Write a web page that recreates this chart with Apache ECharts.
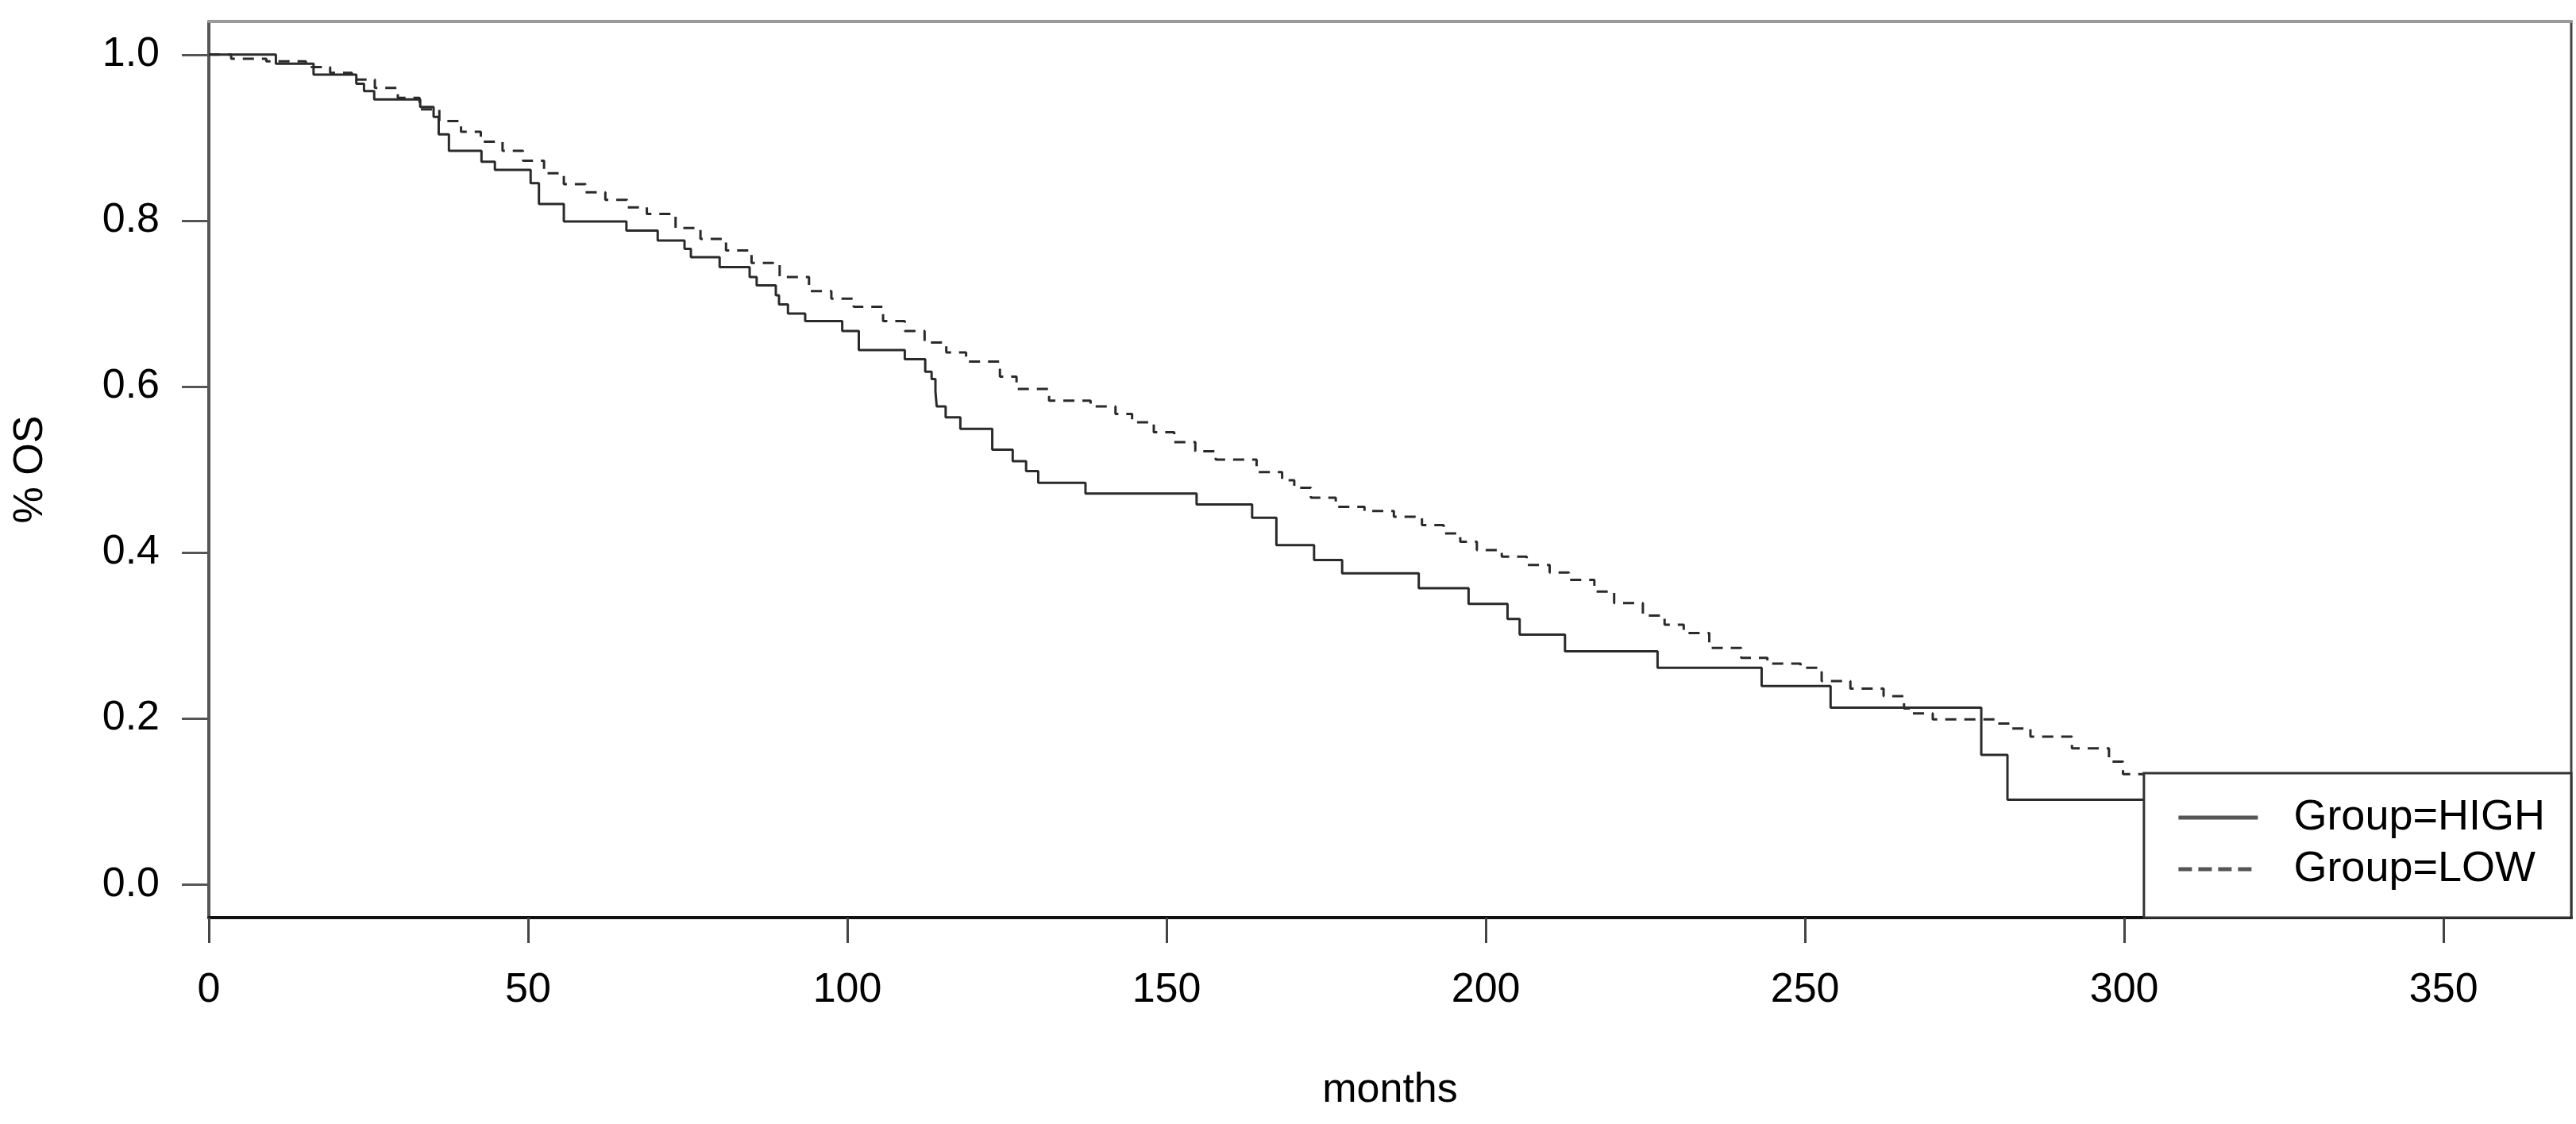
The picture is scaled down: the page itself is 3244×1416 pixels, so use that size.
<!DOCTYPE html>
<html>
<head>
<meta charset="utf-8">
<script src="https://cdn.jsdelivr.net/npm/echarts@6/dist/echarts.min.js"></script>
<style>
html,body{margin:0;padding:0;background:#fff;}
#chart{width:3244px;height:1416px;}
</style>
</head>
<body>
<div id="chart"></div>
<script>
// Kaplan-Meier step data (time in months, survival after drop)
const highTimes = [0, 10.5, 16.4, 23.1, 24.3, 25.9, 33.1, 35.2, 36.0, 37.6, 42.7, 44.8, 50.4, 51.7, 55.6, 65.4, 70.3, 74.5, 75.5, 80.0, 84.7, 85.8, 88.8, 89.3, 90.7, 93.4, 99.2, 101.8, 109.0, 112.2, 113.2, 113.8, 114.0, 115.4, 117.7, 122.7, 125.9, 128.0, 129.9, 137.3, 154.7, 163.4, 167.2, 173.1, 177.5, 189.5, 197.3, 203.4, 205.3, 212.4, 226.9, 243.2, 254.0, 277.6, 281.7, 303.1];
const highSurv  = [1.0, 0.989, 0.976, 0.965, 0.956, 0.946, 0.937, 0.925, 0.904, 0.884, 0.871, 0.861, 0.845, 0.820, 0.799, 0.788, 0.776, 0.766, 0.756, 0.744, 0.732, 0.722, 0.710, 0.699, 0.688, 0.679, 0.667, 0.644, 0.633, 0.618, 0.609, 0.594, 0.576, 0.563, 0.549, 0.524, 0.510, 0.498, 0.484, 0.471, 0.458, 0.442, 0.409, 0.391, 0.375, 0.357, 0.338, 0.320, 0.301, 0.281, 0.261, 0.239, 0.213, 0.156, 0.102, 0.102];

const lowTimes = [0, 3.5, 9, 15.2, 19, 22.4, 26, 29.6, 33, 36.1, 39.5, 42.6, 46, 49.2, 52.5, 55.6, 59, 62.1, 65.5, 68.6, 73.1, 77, 81, 85, 89.4, 94.0, 97.5, 101.0, 105.6, 109, 112.1, 115.5, 118.6, 123.9, 126.5, 131.6, 138.1, 142, 144.6, 148, 151.2, 154.5, 157.7, 164.1, 168.1, 170, 172.6, 176.5, 181, 185.6, 190, 193.4, 196, 198.6, 202.5, 206.4, 210, 213, 217, 220.1, 224.6, 228, 231, 235, 240, 244.1, 249.3, 252.6, 257.1, 262.3, 265.5, 266.4, 270.0, 280.0, 282.0, 285.3, 291.8, 297.6, 299.8, 303.1];
const lowSurv  = [1.0, 0.995, 0.992, 0.985, 0.978, 0.970, 0.960, 0.948, 0.934, 0.920, 0.907, 0.895, 0.884, 0.872, 0.857, 0.844, 0.834, 0.825, 0.816, 0.808, 0.791, 0.778, 0.764, 0.749, 0.732, 0.715, 0.706, 0.696, 0.679, 0.667, 0.653, 0.641, 0.630, 0.612, 0.597, 0.583, 0.576, 0.567, 0.557, 0.545, 0.533, 0.522, 0.512, 0.497, 0.487, 0.478, 0.466, 0.455, 0.450, 0.443, 0.433, 0.423, 0.413, 0.403, 0.395, 0.385, 0.376, 0.367, 0.353, 0.339, 0.324, 0.313, 0.303, 0.285, 0.273, 0.266, 0.261, 0.245, 0.236, 0.227, 0.212, 0.206, 0.199, 0.194, 0.188, 0.178, 0.164, 0.148, 0.133, 0.130];

const xTicks = [0, 50, 100, 150, 200, 250, 300, 350];
const yTicks = [0, 0.2, 0.4, 0.6, 0.8, 1.0];
const seriesNames = ['Group=HIGH', 'Group=LOW'];

const FONT = "'Liberation Sans', Arial, Helvetica, sans-serif";
const toPairs = (t, s) => t.map((v, i) => [v, s[i]]);

const chart = echarts.init(document.getElementById('chart'), null, {renderer: 'canvas'});
chart.setOption({
  backgroundColor: '#ffffff',
  animation: false,
  textStyle: {fontFamily: FONT},
  grid: {
    left: 263, right: 6, top: 27, bottom: 260,
    show: true, borderColor: '#444', borderWidth: 3, backgroundColor: 'transparent'
  },
  xAxis: [{
    type: 'value', min: 0, max: 370,
    name: 'months', nameLocation: 'middle', nameGap: 192,
    nameTextStyle: {fontSize: 52, color: '#000', fontFamily: FONT},
    axisLine: {show: true, onZero: false, lineStyle: {color: '#111', width: 4}},
    axisTick: {show: true, length: 32, customValues: xTicks, lineStyle: {color: '#444', width: 3}},
    axisLabel: {customValues: xTicks, margin: 66, fontSize: 52, color: '#000', fontFamily: FONT},
    splitLine: {show: false}
  }, {
    type: 'value', min: 0, max: 370, position: 'top',
    axisLine: {show: true, onZero: false, lineStyle: {color: '#9a9a9a', width: 4}},
    axisTick: {show: false}, axisLabel: {show: false}, splitLine: {show: false}
  }],
  yAxis: {
    type: 'value', min: -0.04, max: 1.04,
    name: '% OS', nameLocation: 'middle', nameGap: 198, nameRotate: 90,
    nameTextStyle: {fontSize: 52, color: '#000', fontFamily: FONT},
    axisLine: {show: true, onZero: false, lineStyle: {color: '#555', width: 4}},
    axisTick: {show: true, length: 34, customValues: yTicks, lineStyle: {color: '#555', width: 3}},
    axisLabel: {customValues: yTicks, margin: 62, fontSize: 52, color: '#000', fontFamily: FONT,
      formatter: v => v.toFixed(1)},
    splitLine: {show: false}
  },
  legend: {
    data: [
      {name: seriesNames[0], lineStyle: {type: 'solid'}},
      {name: seriesNames[1], lineStyle: {type: [17, 8]}}
    ],
    orient: 'vertical',
    right: 6, bottom: 260,
    itemWidth: 100, itemHeight: 50, itemGap: 11,
    padding: [29, 33, 34, 41],
    backgroundColor: '#ffffff',
    borderColor: '#333', borderWidth: 3, borderRadius: 0,
    itemStyle: {opacity: 0},
    lineStyle: {width: 5, color: '#555'},
    textStyle: {fontSize: 54, color: '#000', fontFamily: FONT, padding: [0, 0, 0, 40]}
  },
  series: [{
    name: seriesNames[0], type: 'line', step: 'end', symbol: 'none',
    data: toPairs(highTimes, highSurv),
    lineStyle: {color: '#2a2a2a', width: 3, type: 'solid'},
    itemStyle: {color: '#2a2a2a'},
    z: 2
  }, {
    name: seriesNames[1], type: 'line', step: 'end', symbol: 'none',
    data: toPairs(lowTimes, lowSurv),
    lineStyle: {color: '#2a2a2a', width: 3, type: [14, 10]},
    itemStyle: {color: '#2a2a2a'},
    z: 2
  }]
});
</script>
</body>
</html>
